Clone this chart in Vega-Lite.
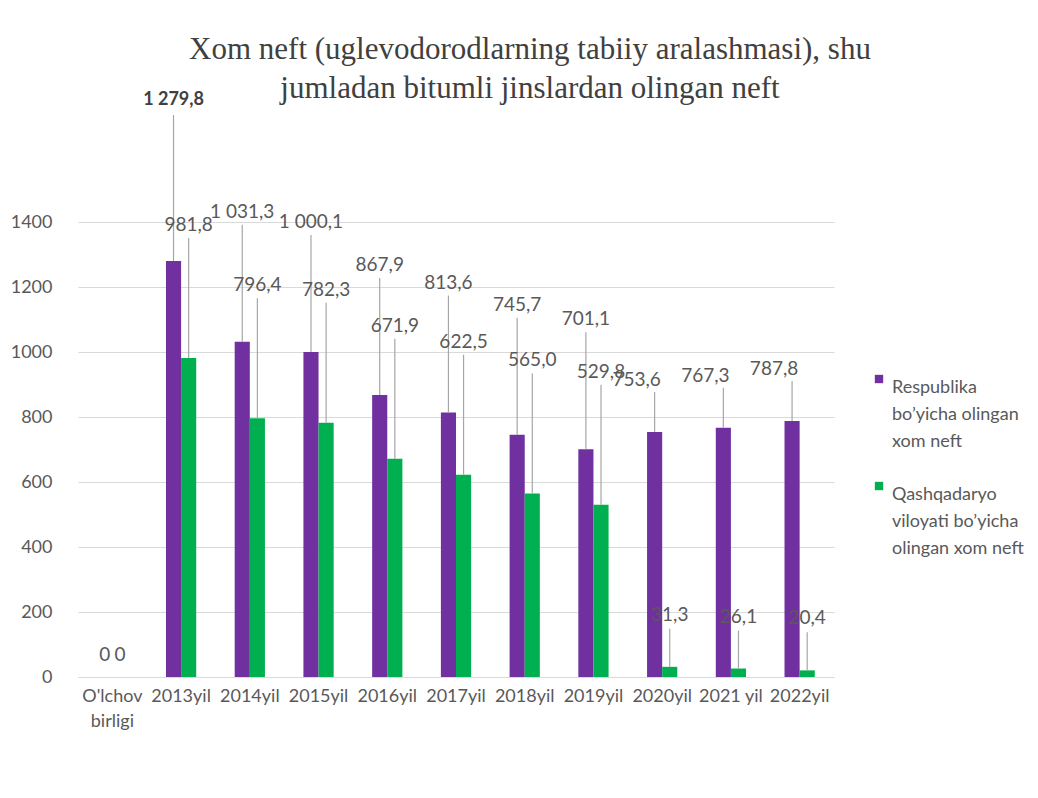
{
  "$schema": "https://vega.github.io/schema/vega-lite/v6.json",
  "autosize": {"type": "none"},
  "padding": {"left": 78, "top": 222, "right": 204, "bottom": 121},
  "width": 756,
  "height": 455,
  "background": "white",
  "config": {
    "view": {"stroke": null},
    "locale": {"number": {"decimal": ",", "thousands": " ", "grouping": [3], "currency": ["", ""]}},
    "font": "Lato"
  },
  "title": {
    "text": ["Xom neft (uglevodorodlarning tabiiy aralashmasi), shu", "jumladan bitumli jinslardan olingan neft"],
    "font": "Liberation Serif",
    "fontSize": 31,
    "fontWeight": "normal",
    "color": "#404040",
    "lineHeight": 39,
    "anchor": "middle",
    "frame": "group",
    "dx": 74,
    "offset": -14
  },
  "data": {
    "values": [
      {"cat": "O'lchov birligi", "series": "Respublika bo'yicha olingan xom neft", "value": 0},
      {"cat": "O'lchov birligi", "series": "Qashqadaryo viloyati bo'yicha olingan xom neft", "value": 0},
      {"cat": "2013yil", "series": "Respublika bo'yicha olingan xom neft", "value": 1279.8},
      {"cat": "2013yil", "series": "Qashqadaryo viloyati bo'yicha olingan xom neft", "value": 981.8},
      {"cat": "2014yil", "series": "Respublika bo'yicha olingan xom neft", "value": 1031.3},
      {"cat": "2014yil", "series": "Qashqadaryo viloyati bo'yicha olingan xom neft", "value": 796.4},
      {"cat": "2015yil", "series": "Respublika bo'yicha olingan xom neft", "value": 1000.1},
      {"cat": "2015yil", "series": "Qashqadaryo viloyati bo'yicha olingan xom neft", "value": 782.3},
      {"cat": "2016yil", "series": "Respublika bo'yicha olingan xom neft", "value": 867.9},
      {"cat": "2016yil", "series": "Qashqadaryo viloyati bo'yicha olingan xom neft", "value": 671.9},
      {"cat": "2017yil", "series": "Respublika bo'yicha olingan xom neft", "value": 813.6},
      {"cat": "2017yil", "series": "Qashqadaryo viloyati bo'yicha olingan xom neft", "value": 622.5},
      {"cat": "2018yil", "series": "Respublika bo'yicha olingan xom neft", "value": 745.7},
      {"cat": "2018yil", "series": "Qashqadaryo viloyati bo'yicha olingan xom neft", "value": 565.0},
      {"cat": "2019yil", "series": "Respublika bo'yicha olingan xom neft", "value": 701.1},
      {"cat": "2019yil", "series": "Qashqadaryo viloyati bo'yicha olingan xom neft", "value": 529.8},
      {"cat": "2020yil", "series": "Respublika bo'yicha olingan xom neft", "value": 753.6},
      {"cat": "2020yil", "series": "Qashqadaryo viloyati bo'yicha olingan xom neft", "value": 31.3},
      {"cat": "2021 yil", "series": "Respublika bo'yicha olingan xom neft", "value": 767.3},
      {"cat": "2021 yil", "series": "Qashqadaryo viloyati bo'yicha olingan xom neft", "value": 26.1},
      {"cat": "2022yil", "series": "Respublika bo'yicha olingan xom neft", "value": 787.8},
      {"cat": "2022yil", "series": "Qashqadaryo viloyati bo'yicha olingan xom neft", "value": 20.4}
    ]
  },
  "encoding": {
    "x": {
      "field": "cat", "type": "nominal",
      "sort": ["O'lchov birligi", "2013yil", "2014yil", "2015yil", "2016yil", "2017yil", "2018yil", "2019yil", "2020yil", "2021 yil", "2022yil"],
      "scale": {"paddingInner": 0.56, "paddingOuter": 0.28},
      "axis": {
        "title": null, "labelAngle": 0, "ticks": false, "domainColor": "#d9d9d9",
        "labelColor": "#595959", "labelFontSize": 18, "labelPadding": 10, "labelFont": "Lato",
        "labelExpr": "indexof(datum.label, 'birligi') >= 0 ? split(datum.label, ' ') : datum.label",
        "labelLineHeight": 25
      }
    },
    "xOffset": {
      "field": "series", "type": "nominal",
      "sort": ["Respublika bo'yicha olingan xom neft", "Qashqadaryo viloyati bo'yicha olingan xom neft"],
      "scale": {"paddingInner": 0}
    },
    "y": {
      "field": "value", "type": "quantitative",
      "scale": {"domain": [0, 1400], "nice": false},
      "axis": {
        "title": null, "values": [0, 200, 400, 600, 800, 1000, 1200, 1400], "format": "d",
        "domain": false, "ticks": false, "gridColor": "#d9d9d9",
        "labelColor": "#595959", "labelFontSize": 18, "labelPadding": 26, "labelFont": "Lato"
      }
    }
  },
  "layer": [
    {
      "mark": {"type": "bar"},
      "encoding": {
        "color": {
          "field": "series", "type": "nominal",
          "sort": ["Respublika bo'yicha olingan xom neft", "Qashqadaryo viloyati bo'yicha olingan xom neft"],
          "scale": {"range": ["#7030A0", "#00B050"]},
          "legend": {
            "title": null, "orient": "none", "legendX": 792, "legendY": 148,
            "symbolType": "square", "symbolSize": 70, "symbolStrokeWidth": 0,
            "labelFontSize": 18, "labelColor": "#595959", "labelFont": "Lato",
            "labelBaseline": "top", "labelOffset": 4, "rowPadding": 26,
            "labelExpr": "indexof(datum.label, 'Respublika') == 0 ? ['Respublika', 'bo\u2019yicha olingan', 'xom neft'] : ['Qashqadaryo', 'viloyati bo\u2019yicha', 'olingan xom neft']",
            "labelLimit": 300,
            "encode": {"labels": {"update": {"lineHeight": {"value": 27}}}, "symbols": {"update": {"dy": {"value": -4}}}}
          }
        }
      }
    },
    {
      "transform": [{"filter": {"and": [
        {"field": "series", "equal": "Respublika bo'yicha olingan xom neft"},
        {"not": {"field": "cat", "oneOf": ["2020yil", "2021 yil", "2022yil"]}},
        {"field": "value", "gt": 0}
      ]}}],
      "layer": [
        {"transform": [{"filter": {"field": "value", "lt": 1200}}], "mark": {"type": "rule", "color": "#a6a6a6", "strokeWidth": 1.2, "y2Offset": -117}, "encoding": {"y2": {"field": "value"}}},
        {"transform": [{"filter": {"field": "value", "lt": 1200}}], "mark": {"type": "text", "dy": -130, "fontSize": 19, "color": "#595959", "font": "Lato"}, "encoding": {"text": {"field": "value", "type": "quantitative", "format": ",.1f"}}},
        {"transform": [{"filter": {"field": "value", "gte": 1200}}], "mark": {"type": "rule", "color": "#a6a6a6", "strokeWidth": 1.2, "y2Offset": -146}, "encoding": {"y2": {"field": "value"}}},
        {"transform": [{"filter": {"field": "value", "gte": 1200}}], "mark": {"type": "text", "dy": -161, "fontSize": 18, "fontWeight": "bold", "color": "#404040", "font": "Lato"}, "encoding": {"text": {"field": "value", "type": "quantitative", "format": ",.1f"}}}
      ]
    },
    {
      "transform": [{"filter": {"and": [
        {"field": "series", "equal": "Respublika bo'yicha olingan xom neft"},
        {"field": "cat", "oneOf": ["2020yil", "2021 yil", "2022yil"]}
      ]}}],
      "layer": [
        {"mark": {"type": "rule", "color": "#a6a6a6", "strokeWidth": 1.2, "y2Offset": -40}, "encoding": {"y2": {"field": "value"}}},
        {"mark": {"type": "text", "dy": -52, "dx": -18, "fontSize": 19, "color": "#595959", "font": "Lato"}, "encoding": {"text": {"field": "value", "type": "quantitative", "format": ",.1f"}}}
      ]
    },
    {
      "transform": [{"filter": {"and": [
        {"field": "series", "equal": "Qashqadaryo viloyati bo'yicha olingan xom neft"},
        {"field": "value", "gt": 100}
      ]}}],
      "layer": [
        {"mark": {"type": "rule", "color": "#a6a6a6", "strokeWidth": 1.2, "y2Offset": -120}, "encoding": {"y2": {"field": "value"}}},
        {"mark": {"type": "text", "dy": -133, "fontSize": 19, "color": "#595959", "font": "Lato"}, "encoding": {"text": {"field": "value", "type": "quantitative", "format": ",.1f"}}}
      ]
    },
    {
      "transform": [{"filter": {"and": [
        {"field": "series", "equal": "Qashqadaryo viloyati bo'yicha olingan xom neft"},
        {"field": "value", "gt": 0},
        {"field": "value", "lte": 100}
      ]}}],
      "layer": [
        {"mark": {"type": "rule", "color": "#a6a6a6", "strokeWidth": 1.2, "y2Offset": -38}, "encoding": {"y2": {"field": "value"}}},
        {"mark": {"type": "text", "dy": -52, "fontSize": 19, "color": "#595959", "font": "Lato"}, "encoding": {"text": {"field": "value", "type": "quantitative", "format": ",.1f"}}}
      ]
    },
    {
      "transform": [{"filter": {"field": "value", "equal": 0}}],
      "mark": {"type": "text", "dy": -22, "fontSize": 19, "color": "#595959", "font": "Lato"},
      "encoding": {"text": {"field": "value", "type": "quantitative", "format": "d"}}
    }
  ]
}
